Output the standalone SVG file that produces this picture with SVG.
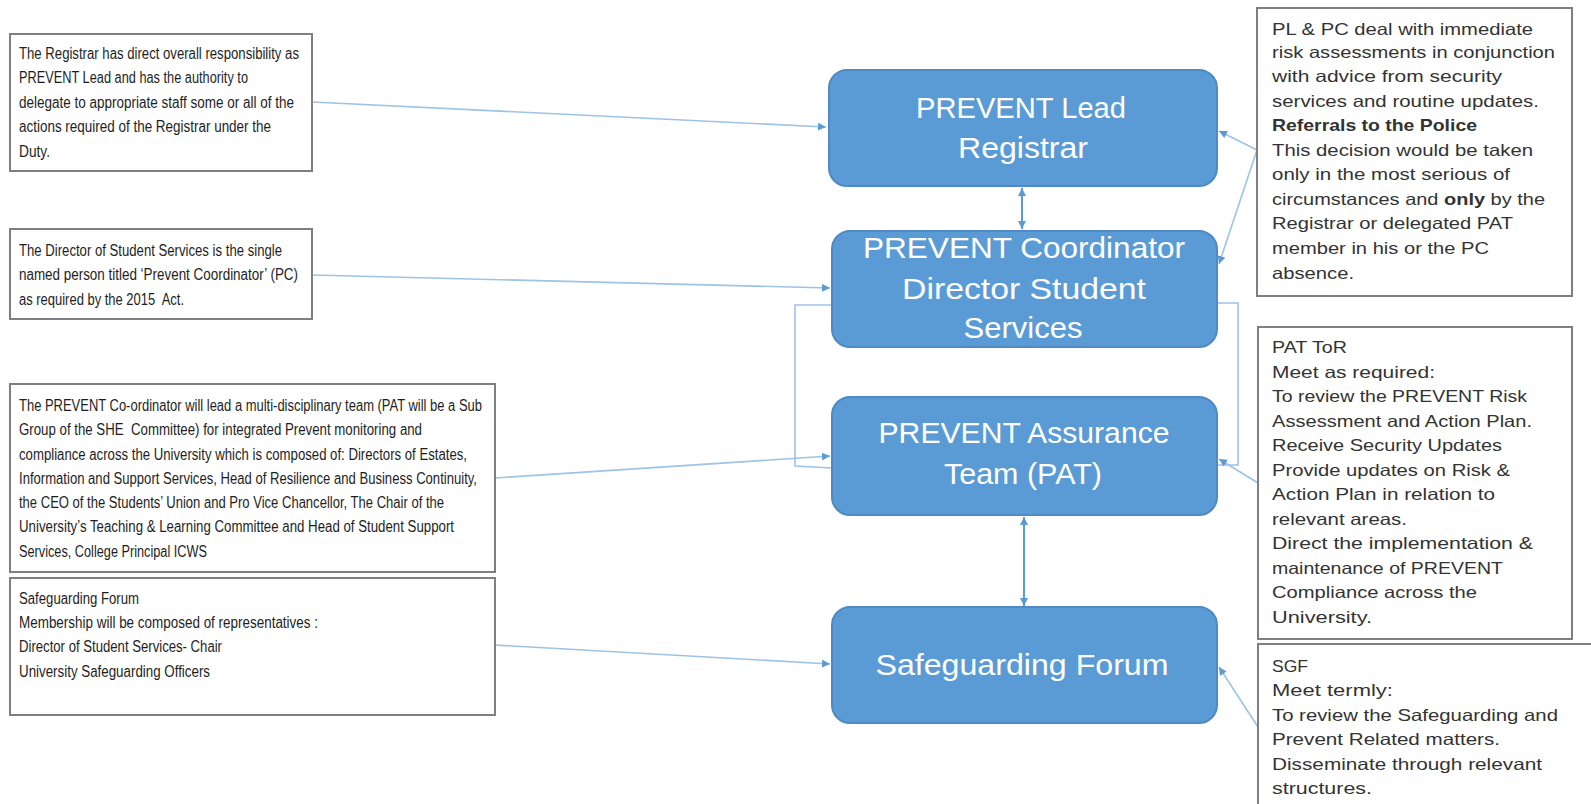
<svg xmlns="http://www.w3.org/2000/svg" width="1591" height="804" viewBox="0 0 1591 804">
<style>
.box{fill:#fff;stroke:#7f7f7f;stroke-width:2}
.nrect{fill:#5B9BD5;stroke:#4F8AC4;stroke-width:2}
.nt{font-family:"Liberation Sans",Arial,sans-serif;font-size:30px;fill:#fff;text-anchor:middle}
.lt{font-family:"Liberation Sans Narrow","Liberation Sans",Arial,sans-serif;font-size:16px;fill:#1e1e1e}
.rt{font-family:"Liberation Sans",Arial,sans-serif;font-size:16.5px;fill:#333}
.b{font-weight:bold}
.c{stroke:#9DC3E6;stroke-width:1.6;fill:none}
.cd{stroke:#5B9BD5;stroke-width:2;fill:none}
</style>
<defs>
<marker id="ah" markerUnits="userSpaceOnUse" markerWidth="9" markerHeight="9" refX="8" refY="4" orient="auto-start-reverse">
<path d="M0,0 L8,4 L0,8 z" fill="#5B9BD5"/>
</marker>
</defs>
<rect width="1591" height="804" fill="#fff"/>

<g id="connectors">
<line class="c" x1="312" y1="102" x2="826" y2="127" marker-end="url(#ah)"/>
<line class="c" x1="312" y1="275" x2="830" y2="288" marker-end="url(#ah)"/>
<line class="c" x1="495" y1="478" x2="830" y2="456" marker-end="url(#ah)"/>
<line class="c" x1="495" y1="645" x2="830" y2="664" marker-end="url(#ah)"/>
<polyline class="c" points="832,305 795,305 795,466 832,468"/>
<polyline class="c" points="1217,303 1238,303 1238,465 1217,465"/>
<line class="c" x1="1257" y1="150" x2="1219" y2="131" marker-end="url(#ah)"/>
<line class="c" x1="1257" y1="150" x2="1219" y2="264" marker-end="url(#ah)"/>
<line class="c" x1="1258" y1="483" x2="1219" y2="459" marker-end="url(#ah)"/>
<line class="c" x1="1258" y1="727" x2="1219" y2="667" marker-end="url(#ah)"/>
<line class="cd" x1="1022" y1="188" x2="1022" y2="229" marker-start="url(#ah)" marker-end="url(#ah)"/>
<line class="cd" x1="1024" y1="517" x2="1024" y2="606" marker-start="url(#ah)" marker-end="url(#ah)"/>
</g>

<g id="node-lead">
<rect class="nrect" x="829" y="70" width="388" height="116" rx="18"/>
<text class="nt" x="1021" y="118" textLength="210" lengthAdjust="spacingAndGlyphs">PREVENT Lead</text>
<text class="nt" x="1023" y="158" textLength="130" lengthAdjust="spacingAndGlyphs">Registrar</text>
</g>

<g id="node-coordinator">
<rect class="nrect" x="832" y="231" width="385" height="116" rx="18"/>
<text class="nt" x="1024" y="258" textLength="322" lengthAdjust="spacingAndGlyphs">PREVENT Coordinator</text>
<text class="nt" x="1024" y="299" textLength="244" lengthAdjust="spacingAndGlyphs">Director Student</text>
<text class="nt" x="1023" y="338" textLength="119" lengthAdjust="spacingAndGlyphs">Services</text>
</g>

<g id="node-pat">
<rect class="nrect" x="832" y="397" width="385" height="118" rx="18"/>
<text class="nt" x="1024" y="443" textLength="291" lengthAdjust="spacingAndGlyphs">PREVENT Assurance</text>
<text class="nt" x="1023" y="484" textLength="158" lengthAdjust="spacingAndGlyphs">Team (PAT)</text>
</g>

<g id="node-sgf">
<rect class="nrect" x="832" y="607" width="385" height="116" rx="18"/>
<text class="nt" x="1022" y="675" textLength="293" lengthAdjust="spacingAndGlyphs">Safeguarding Forum</text>
</g>

<g id="note-registrar">
<rect class="box" x="10" y="34" width="302" height="137"/>
<text class="lt" x="19" y="59" textLength="280" lengthAdjust="spacingAndGlyphs">The Registrar has direct overall responsibility as</text>
<text class="lt" x="19" y="83" textLength="229" lengthAdjust="spacingAndGlyphs">PREVENT Lead and has the authority to</text>
<text class="lt" x="19" y="108" textLength="275" lengthAdjust="spacingAndGlyphs">delegate to appropriate staff some or all of the</text>
<text class="lt" x="19" y="132" textLength="252" lengthAdjust="spacingAndGlyphs">actions required of the Registrar under the</text>
<text class="lt" x="19" y="157" textLength="31" lengthAdjust="spacingAndGlyphs">Duty.</text>
</g>

<g id="note-director">
<rect class="box" x="10" y="229" width="302" height="90"/>
<text class="lt" x="19" y="256" textLength="263" lengthAdjust="spacingAndGlyphs">The Director of Student Services is the single</text>
<text class="lt" x="19" y="280" textLength="279" lengthAdjust="spacingAndGlyphs">named person titled ‘Prevent Coordinator’ (PC)</text>
<text class="lt" x="19" y="305" textLength="165" lengthAdjust="spacingAndGlyphs" xml:space="preserve">as required by the 2015  Act.</text>
</g>

<g id="note-pat">
<rect class="box" x="10" y="384" width="485" height="188"/>
<text class="lt" x="19" y="411" textLength="463" lengthAdjust="spacingAndGlyphs">The PREVENT Co-ordinator will lead a multi-disciplinary team (PAT will be a Sub</text>
<text class="lt" x="19" y="435" textLength="403" lengthAdjust="spacingAndGlyphs" xml:space="preserve">Group of the SHE  Committee) for integrated Prevent monitoring and</text>
<text class="lt" x="19" y="460" textLength="448" lengthAdjust="spacingAndGlyphs">compliance across the University which is composed of: Directors of Estates,</text>
<text class="lt" x="19" y="484" textLength="458" lengthAdjust="spacingAndGlyphs">Information and Support Services, Head of Resilience and Business Continuity,</text>
<text class="lt" x="19" y="508" textLength="425" lengthAdjust="spacingAndGlyphs">the CEO of the Students’ Union and Pro Vice Chancellor, The Chair of the</text>
<text class="lt" x="19" y="532" textLength="435" lengthAdjust="spacingAndGlyphs">University’s Teaching &amp; Learning Committee and Head of Student Support</text>
<text class="lt" x="19" y="557" textLength="188" lengthAdjust="spacingAndGlyphs">Services, College Principal ICWS</text>
</g>

<g id="note-sgf">
<rect class="box" x="10" y="578" width="485" height="137"/>
<text class="lt" x="19" y="604" textLength="120" lengthAdjust="spacingAndGlyphs">Safeguarding Forum</text>
<text class="lt" x="19" y="628" textLength="299" lengthAdjust="spacingAndGlyphs">Membership will be composed of representatives :</text>
<text class="lt" x="19" y="652" textLength="203" lengthAdjust="spacingAndGlyphs">Director of Student Services- Chair</text>
<text class="lt" x="19" y="677" textLength="191" lengthAdjust="spacingAndGlyphs">University Safeguarding Officers</text>
</g>

<g id="note-risk">
<rect class="box" x="1257" y="8" width="315" height="288"/>
<text class="rt" x="1272" y="35" textLength="261" lengthAdjust="spacingAndGlyphs">PL &amp; PC deal with immediate</text>
<text class="rt" x="1272" y="58" textLength="283" lengthAdjust="spacingAndGlyphs">risk assessments in conjunction</text>
<text class="rt" x="1272" y="82" textLength="230" lengthAdjust="spacingAndGlyphs">with advice from security</text>
<text class="rt" x="1272" y="107" textLength="267" lengthAdjust="spacingAndGlyphs">services and routine updates.</text>
<text class="rt b" x="1272" y="131" textLength="205" lengthAdjust="spacingAndGlyphs">Referrals to the Police</text>
<text class="rt" x="1272" y="156" textLength="261" lengthAdjust="spacingAndGlyphs">This decision would be taken</text>
<text class="rt" x="1272" y="180" textLength="238" lengthAdjust="spacingAndGlyphs">only in the most serious of</text>
<text class="rt" x="1272" y="205" textLength="273" lengthAdjust="spacingAndGlyphs">circumstances and <tspan class="b">only</tspan> by the</text>
<text class="rt" x="1272" y="229" textLength="241" lengthAdjust="spacingAndGlyphs">Registrar or delegated PAT</text>
<text class="rt" x="1272" y="254" textLength="217" lengthAdjust="spacingAndGlyphs">member in his or the PC</text>
<text class="rt" x="1272" y="279" textLength="82" lengthAdjust="spacingAndGlyphs">absence.</text>
</g>

<g id="note-pat-tor">
<rect class="box" x="1258" y="327" width="314" height="312"/>
<text class="rt" x="1272" y="353" textLength="75" lengthAdjust="spacingAndGlyphs">PAT ToR</text>
<text class="rt" x="1272" y="377.5" textLength="163" lengthAdjust="spacingAndGlyphs">Meet as required:</text>
<text class="rt" x="1272" y="402" textLength="255" lengthAdjust="spacingAndGlyphs">To review the PREVENT Risk</text>
<text class="rt" x="1272" y="426.5" textLength="260" lengthAdjust="spacingAndGlyphs">Assessment and Action Plan.</text>
<text class="rt" x="1272" y="451" textLength="230" lengthAdjust="spacingAndGlyphs">Receive Security Updates</text>
<text class="rt" x="1272" y="475.5" textLength="238" lengthAdjust="spacingAndGlyphs">Provide updates on Risk &amp;</text>
<text class="rt" x="1272" y="500" textLength="223" lengthAdjust="spacingAndGlyphs">Action Plan in relation to</text>
<text class="rt" x="1272" y="524.5" textLength="135" lengthAdjust="spacingAndGlyphs">relevant areas.</text>
<text class="rt" x="1272" y="549" textLength="261" lengthAdjust="spacingAndGlyphs">Direct the implementation &amp;</text>
<text class="rt" x="1272" y="573.5" textLength="231" lengthAdjust="spacingAndGlyphs">maintenance of PREVENT</text>
<text class="rt" x="1272" y="598" textLength="205" lengthAdjust="spacingAndGlyphs">Compliance across the</text>
<text class="rt" x="1272" y="622.5" textLength="100" lengthAdjust="spacingAndGlyphs">University.</text>
</g>

<g id="note-sgf-tor">
<rect class="box" x="1258" y="644" width="400" height="220"/>
<text class="rt" x="1272" y="672" textLength="36" lengthAdjust="spacingAndGlyphs">SGF</text>
<text class="rt" x="1272" y="696" textLength="121" lengthAdjust="spacingAndGlyphs">Meet termly:</text>
<text class="rt" x="1272" y="721" textLength="286" lengthAdjust="spacingAndGlyphs">To review the Safeguarding and</text>
<text class="rt" x="1272" y="745" textLength="228" lengthAdjust="spacingAndGlyphs">Prevent Related matters.</text>
<text class="rt" x="1272" y="770" textLength="270" lengthAdjust="spacingAndGlyphs">Disseminate through relevant</text>
<text class="rt" x="1272" y="794" textLength="100" lengthAdjust="spacingAndGlyphs">structures.</text>
</g>
</svg>
